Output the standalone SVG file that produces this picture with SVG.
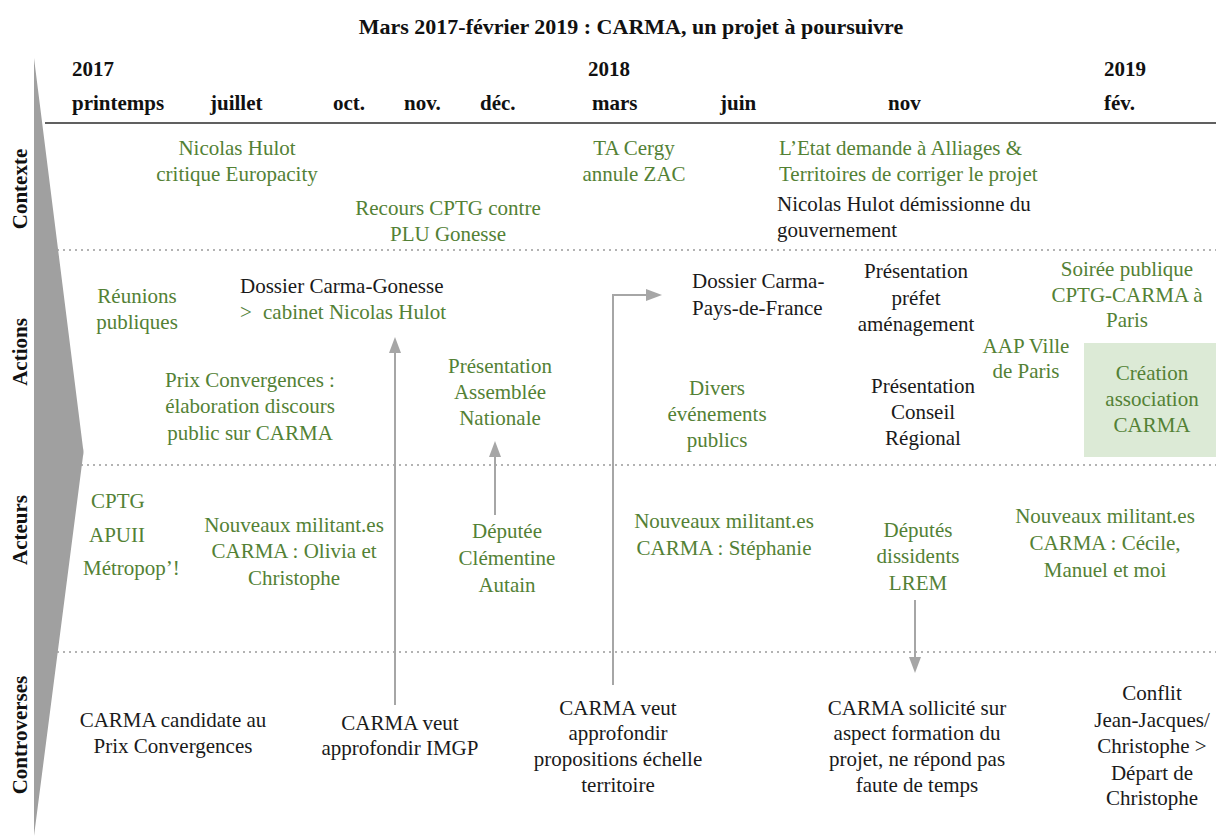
<svg xmlns="http://www.w3.org/2000/svg" width="1216" height="837" viewBox="0 0 1216 837">
<style>
text{font-family:"Liberation Serif","Times New Roman",serif;font-size:21px}
.h{font-weight:bold;fill:#111}
.g{fill:#538135}
.k{fill:#1a1a1a}
.c{text-anchor:middle}
.dot{stroke:#9a9a9a;stroke-width:1.5;stroke-dasharray:2 4;fill:none}
.arr{stroke:#a6a6a6;stroke-width:2;fill:none;marker-end:url(#ah)}
</style>
<defs>
<marker id="ah" markerUnits="userSpaceOnUse" viewBox="0 0 16 12" refX="0" refY="6" markerWidth="16" markerHeight="12" orient="auto">
<path d="M0,0 L16,6 L0,12 z" fill="#a6a6a6"/>
</marker>
</defs>
<rect width="1216" height="837" fill="#fff"/>

<g id="grid">
<line x1="45" y1="123" x2="1216" y2="123" stroke="#606060" stroke-width="2"/>
<line class="dot" x1="45" y1="250" x2="1216" y2="250"/>
<line class="dot" x1="45" y1="465" x2="1216" y2="465"/>
<line class="dot" x1="45" y1="652" x2="1216" y2="652"/>
<path d="M34,58 L83,448 Q84,452 83,456 L34,836 Z" fill="#a0a0a0"/>
</g>

<g id="title"><text class="h c" x="631" y="34" style="font-size:22px">Mars 2017-février 2019 : CARMA, un projet à poursuivre</text></g>

<g id="timeline">
<text class="h" x="72" y="76">2017</text>
<text class="h" x="588" y="76">2018</text>
<text class="h" x="1104" y="76">2019</text>
<text class="h" x="72" y="110">printemps</text>
<text class="h" x="210" y="110">juillet</text>
<text class="h" x="333" y="110">oct.</text>
<text class="h" x="404" y="110">nov.</text>
<text class="h" x="480" y="110">déc.</text>
<text class="h" x="592" y="110">mars</text>
<text class="h" x="720" y="110">juin</text>
<text class="h" x="888" y="110">nov</text>
<text class="h" x="1104" y="110">fév.</text>
</g>

<g id="sections">
<text class="h c" transform="translate(27,189) rotate(-90)">Contexte</text>
<text class="h c" transform="translate(27,352) rotate(-90)">Actions</text>
<text class="h c" transform="translate(27,530) rotate(-90)">Acteurs</text>
<text class="h c" transform="translate(27,735) rotate(-90)">Controverses</text>
</g>

<g id="connectors">
<path class="arr" d="M395,705 V353"/>
<path class="arr" d="M495,515 V457"/>
<path class="arr" d="M613,685 V295 H646"/>
<path class="arr" d="M915,600 V657"/>
</g>

<g id="ctx-hulot-critique"><text class="g c" x="237" y="155">Nicolas Hulot</text><text class="g c" x="237" y="181">critique Europacity</text></g>
<g id="ctx-recours"><text class="g c" x="448" y="215">Recours CPTG contre</text><text class="g c" x="448" y="241">PLU Gonesse</text></g>
<g id="ctx-ta-cergy"><text class="g c" x="634" y="155">TA Cergy</text><text class="g c" x="634" y="181">annule ZAC</text></g>
<g id="ctx-etat"><text class="g" x="779" y="155">L’Etat demande à Alliages &amp;</text><text class="g" x="779" y="181">Territoires de corriger le projet</text></g>
<g id="ctx-hulot-demission"><text class="k" x="777" y="211">Nicolas Hulot démissionne du</text><text class="k" x="777" y="237">gouvernement</text></g>

<g id="act-reunions"><text class="g c" x="137" y="303">Réunions</text><text class="g c" x="137" y="329">publiques</text></g>
<g id="act-dossier-gonesse"><text class="k" x="240" y="293">Dossier Carma-Gonesse</text><text class="g" x="240" y="319">&gt;</text><text class="g" x="263" y="319">cabinet Nicolas Hulot</text></g>
<g id="act-prix"><text class="g c" x="250" y="387">Prix Convergences :</text><text class="g c" x="250" y="413">élaboration discours</text><text class="g c" x="250" y="440">public sur CARMA</text></g>
<g id="act-assemblee"><text class="g c" x="500" y="373">Présentation</text><text class="g c" x="500" y="399">Assemblée</text><text class="g c" x="500" y="425">Nationale</text></g>
<g id="act-dossier-pdf"><text class="k" x="692" y="288">Dossier Carma-</text><text class="k" x="692" y="315">Pays-de-France</text></g>
<g id="act-prefet"><text class="k c" x="916" y="278">Présentation</text><text class="k c" x="916" y="305">préfet</text><text class="k c" x="916" y="331">aménagement</text></g>
<g id="act-soiree"><text class="g c" x="1127" y="276">Soirée publique</text><text class="g c" x="1127" y="302">CPTG-CARMA à</text><text class="g c" x="1127" y="327">Paris</text></g>
<g id="act-aap"><text class="g c" x="1026" y="353">AAP Ville</text><text class="g c" x="1026" y="378">de Paris</text></g>
<g id="act-creation"><rect x="1084" y="343" width="132" height="114" fill="#dcead6"/><text class="g c" x="1152" y="380">Création</text><text class="g c" x="1152" y="406">association</text><text class="g c" x="1152" y="432">CARMA</text></g>
<g id="act-divers"><text class="g c" x="717" y="395">Divers</text><text class="g c" x="717" y="421">événements</text><text class="g c" x="717" y="447">publics</text></g>
<g id="act-conseil"><text class="k c" x="923" y="393">Présentation</text><text class="k c" x="923" y="419">Conseil</text><text class="k c" x="923" y="445">Régional</text></g>

<g id="acteurs-assos"><text class="g" x="91" y="508">CPTG</text><text class="g" x="89" y="542">APUII</text><text class="g" x="83" y="575">Métropop’!</text></g>
<g id="acteurs-olivia"><text class="g c" x="294" y="532">Nouveaux militant.es</text><text class="g c" x="294" y="558">CARMA : Olivia et</text><text class="g c" x="294" y="585">Christophe</text></g>
<g id="acteurs-autain"><text class="g c" x="507" y="538">Députée</text><text class="g c" x="507" y="565">Clémentine</text><text class="g c" x="507" y="592">Autain</text></g>
<g id="acteurs-stephanie"><text class="g c" x="724" y="528">Nouveaux militant.es</text><text class="g c" x="724" y="555">CARMA : Stéphanie</text></g>
<g id="acteurs-lrem"><text class="g c" x="918" y="537">Députés</text><text class="g c" x="918" y="563">dissidents</text><text class="g c" x="918" y="590">LREM</text></g>
<g id="acteurs-cecile"><text class="g c" x="1105" y="523">Nouveaux militant.es</text><text class="g c" x="1105" y="550">CARMA : Cécile,</text><text class="g c" x="1105" y="577">Manuel et moi</text></g>

<g id="contro-candidate"><text class="k c" x="173" y="727">CARMA candidate au</text><text class="k c" x="173" y="753">Prix Convergences</text></g>
<g id="contro-imgp"><text class="k c" x="400" y="730">CARMA veut</text><text class="k c" x="400" y="755">approfondir IMGP</text></g>
<g id="contro-territoire"><text class="k c" x="618" y="715">CARMA veut</text><text class="k c" x="618" y="740">approfondir</text><text class="k c" x="618" y="766">propositions échelle</text><text class="k c" x="618" y="792">territoire</text></g>
<g id="contro-formation"><text class="k c" x="917" y="715">CARMA sollicité sur</text><text class="k c" x="917" y="740">aspect formation du</text><text class="k c" x="917" y="766">projet, ne répond pas</text><text class="k c" x="917" y="792">faute de temps</text></g>
<g id="contro-conflit"><text class="k c" x="1152" y="700">Conflit</text><text class="k c" x="1152" y="727">Jean-Jacques/</text><text class="k c" x="1152" y="753">Christophe &gt;</text><text class="k c" x="1152" y="780">Départ de</text><text class="k c" x="1152" y="805">Christophe</text></g>
</svg>
